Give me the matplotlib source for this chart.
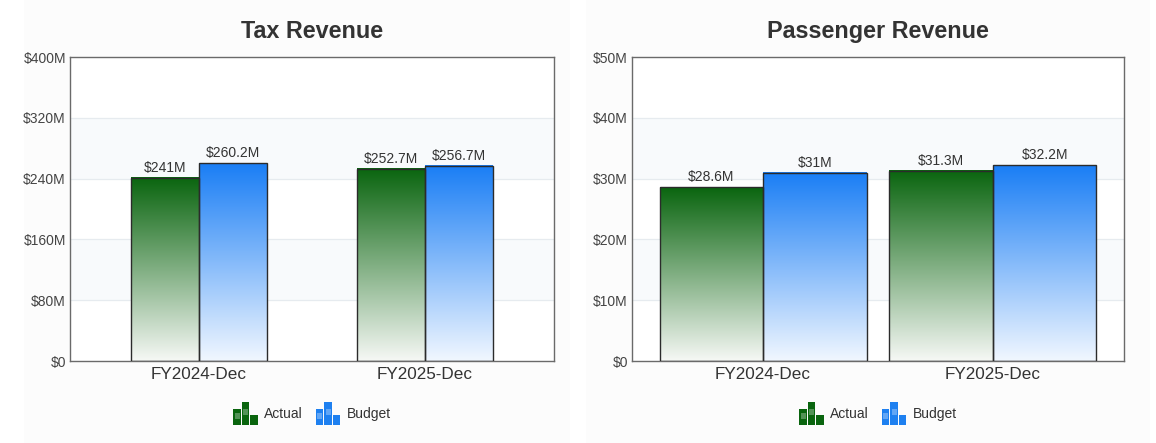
import numpy as np
import matplotlib
matplotlib.use("Agg")
import matplotlib.pyplot as plt
from matplotlib.patches import Rectangle, Patch
from matplotlib.legend_handler import HandlerBase
from matplotlib.colors import to_rgb

plt.rcParams['font.family'] = ['Liberation Sans', 'DejaVu Sans']

categories = ["FY2024-Dec", "FY2025-Dec"]
tax_actual = [241, 252.7]
tax_budget = [260.2, 256.7]
pass_actual = [28.6, 31.3]
pass_budget = [31, 32.2]
tax_ticks = [0, 80, 160, 240, 320, 400]
pass_ticks = [0, 10, 20, 30, 40, 50]
series_names = ["Actual", "Budget"]

GREEN_TOP, GREEN_BOT = "#0a650f", "#f6f8f5"
BLUE_TOP, BLUE_BOT = "#1a7ef5", "#f1f7ff"
TEXT = "#333333"

W, H = 1156, 443
fig = plt.figure(figsize=(W / 100, H / 100), dpi=100, facecolor="white")
# panel backgrounds
fig.patches.append(Rectangle((24 / W, 0), (570 - 24) / W, 1, transform=fig.transFigure,
                             facecolor="#fcfcfc", edgecolor="none", zorder=-10))
fig.patches.append(Rectangle((586 / W, 0), (1150 - 586) / W, 1, transform=fig.transFigure,
                             facecolor="#fcfcfc", edgecolor="none", zorder=-10))


def grad_img(top, bot, n=256):
    t = np.linspace(0, 1, n)[:, None]
    a = np.array(to_rgb(bot)); b = np.array(to_rgb(top))
    img = a[None, :] * (1 - t) + b[None, :] * t
    return img[:, None, :]


class BarIcon(HandlerBase):
    def create_artists(self, legend, orig_handle, xdescent, ydescent, width, height, fontsize, trans):
        fc = orig_handle.get_facecolor()
        light = tuple(c + (1 - c) * 0.3 for c in fc[:3])
        x0, y0 = -xdescent, -ydescent - 0.215 * height
        h = height * 1.32
        arts = []
        specs = [(0.0, 0.31, 0.70), (0.345, 0.31, 1.0), (0.69, 0.31, 0.44)]
        for fx, fw, fh in specs:
            arts.append(Rectangle((x0 + fx * width, y0), fw * width, fh * h, facecolor=fc,
                                  edgecolor="none", transform=trans))
        # highlights
        arts.append(Rectangle((x0 + 0.05 * width, y0 + 0.30 * h), 0.21 * width, 0.22 * h,
                              facecolor=light, edgecolor="none", transform=trans))
        arts.append(Rectangle((x0 + 0.395 * width, y0 + 0.45 * h), 0.21 * width, 0.25 * h,
                              facecolor=light, edgecolor="none", transform=trans))
        return arts


def make_panel(rect, title, actual, budget, ticks, width, bands):
    ax = fig.add_axes(rect)
    ax.set_facecolor("white")
    x = np.arange(len(categories))
    for lo, hi in bands:
        ax.axhspan(lo, hi, color="#f8fafc", zorder=0, lw=0)
    for t in ticks[1:-1]:
        ax.axhline(t, color="#e6ebef", lw=0.9, zorder=0.5)
    specs = [(actual, -width / 2, GREEN_TOP, GREEN_BOT), (budget, width / 2, BLUE_TOP, BLUE_BOT)]
    for vals, off, top, bot in specs:
        bars = ax.bar(x + off, vals, width, facecolor="none", edgecolor="#2b2b2b", lw=1.0, zorder=3)
        for b, v in zip(bars, vals):
            ax.imshow(grad_img(top, bot), extent=[b.get_x(), b.get_x() + b.get_width(), 0, b.get_height()],
                      origin="lower", aspect="auto", interpolation="bilinear", zorder=2)
            ax.annotate(f"${v:g}M", (b.get_x() + b.get_width() / 2, b.get_height()),
                        xytext=(0, 2), textcoords="offset points", ha="center", va="bottom",
                        fontsize=10, color=TEXT, zorder=4)
    ax.set_xlim(-0.57, 1.57)
    ax.set_ylim(ticks[0], ticks[-1])
    ax.set_aspect("auto")
    ax.set_xticks(x)
    ax.set_xticklabels(categories, fontsize=12.3, color=TEXT)
    ax.set_yticks(ticks)
    ax.set_yticklabels([f"${t}M" if t else "$0" for t in ticks], fontsize=10, color="#444444")
    ax.tick_params(axis="both", length=0)
    ax.tick_params(axis="y", pad=3)
    ax.tick_params(axis="x", pad=4)
    for s in ax.spines.values():
        s.set_color("#6a6a6a")
        s.set_linewidth(1.0)
    ax.text(0.5, 1 + 25 / 304, title, transform=ax.transAxes, ha="center", va="center",
            fontsize=16.8, fontweight="bold", color=TEXT)
    handles = [Patch(facecolor=GREEN_TOP), Patch(facecolor="#1e80f0")]
    leg = ax.legend(handles, series_names, handler_map={Patch: BarIcon()}, loc="center",
                    bbox_to_anchor=(0.5, -0.171), ncol=2, frameon=False, fontsize=10,
                    handlelength=1.75, handleheight=1.55, handletextpad=0.45, columnspacing=0.95)
    for t in leg.get_texts():
        t.set_color(TEXT)
    return ax


ax_b = (H - 361) / H
ax_h = 304 / H
make_panel([70 / W, ax_b, 484 / W, ax_h], "Tax Revenue", tax_actual, tax_budget, tax_ticks, 0.30,
           [(80, 160), (240, 320)])
make_panel([632 / W, ax_b, 492 / W, ax_h], "Passenger Revenue", pass_actual, pass_budget, pass_ticks, 0.45,
           [(10, 20), (30, 40)])

fig.savefig("out.png", dpi=100, facecolor=fig.get_facecolor())
